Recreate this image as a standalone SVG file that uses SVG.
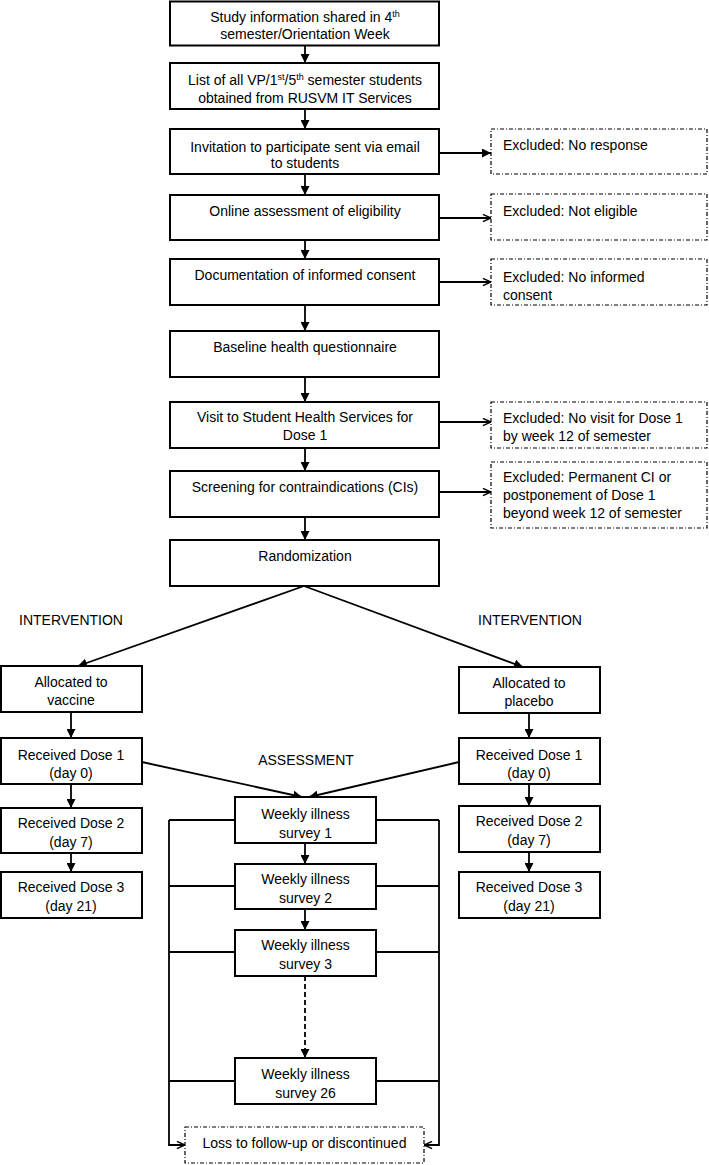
<svg xmlns="http://www.w3.org/2000/svg" width="709" height="1165" viewBox="0 0 709 1165">
<defs>
<style>
text{font-family:"Liberation Sans",Arial,sans-serif;font-size:14px;fill:#000}
.c{text-anchor:middle}
.box{fill:#fff;stroke:#000;stroke-width:2}
.ex{fill:#fff;stroke:#000;stroke-width:1.2;stroke-dasharray:4,2,1,2}
.ln{fill:none;stroke:#000;stroke-width:1.8}
.fa{marker-end:url(#filled)}
.oa{marker-end:url(#open)}
</style>
<marker id="filled" viewBox="0 0 10 10" refX="10" refY="5" markerWidth="9" markerHeight="9" markerUnits="userSpaceOnUse" orient="auto">
<path d="M0,0 L10,5 L0,10 z" fill="#000"/>
</marker>
<marker id="open" viewBox="0 0 10 10" refX="10" refY="5" markerWidth="9" markerHeight="9" markerUnits="userSpaceOnUse" orient="auto">
<path d="M1,1 L10,5 L1,9" fill="none" stroke="#000" stroke-width="1.6"/>
</marker>
</defs>
<rect width="709" height="1165" fill="#fff"/>

<g id="connectors">
<line class="ln fa" x1="305" y1="45" x2="305" y2="63"/>
<line class="ln fa" x1="305" y1="109" x2="305" y2="129"/>
<line class="ln fa" x1="305" y1="174" x2="305" y2="195"/>
<line class="ln fa" x1="305" y1="240" x2="305" y2="259"/>
<line class="ln fa" x1="305" y1="305" x2="305" y2="331"/>
<line class="ln fa" x1="305" y1="377" x2="305" y2="402"/>
<line class="ln fa" x1="305" y1="448" x2="305" y2="471"/>
<line class="ln fa" x1="305" y1="517" x2="305" y2="540"/>
<line class="ln fa" x1="439" y1="153" x2="491" y2="153"/>
<line class="ln oa" x1="439" y1="218" x2="491" y2="218"/>
<line class="ln oa" x1="439" y1="282" x2="491" y2="282"/>
<line class="ln oa" x1="439" y1="422" x2="491" y2="422"/>
<line class="ln oa" x1="439" y1="492" x2="491" y2="492"/>
<line class="ln fa" x1="304" y1="586" x2="78" y2="666"/>
<line class="ln fa" x1="304" y1="586" x2="523" y2="667"/>
<line class="ln fa" x1="71" y1="712" x2="71" y2="738"/>
<line class="ln fa" x1="71" y1="784" x2="71" y2="808"/>
<line class="ln fa" x1="71" y1="853" x2="71" y2="872"/>
<line class="ln fa" x1="529" y1="713" x2="529" y2="738"/>
<line class="ln fa" x1="529" y1="784" x2="529" y2="806"/>
<line class="ln fa" x1="529" y1="852" x2="529" y2="872"/>
<line class="ln fa" x1="142" y1="762" x2="302" y2="797"/>
<line class="ln fa" x1="459" y1="762" x2="309" y2="797"/>
<line class="ln fa" x1="305" y1="843" x2="305" y2="864"/>
<line class="ln fa" x1="305" y1="909" x2="305" y2="930"/>
<line class="ln fa" x1="305" y1="976" x2="305" y2="1058" stroke-dasharray="5,3"/>
<path class="ln" d="M235,820 H169 M235,886 H169 M235,952 H169 M235,1081 H169"/>
<path class="ln" d="M376,820 H439 M376,886 H439 M376,952 H439 M376,1081 H439"/>
<path class="ln oa" d="M169,820 V1145 H185"/>
<path class="ln oa" d="M439,820 V1145 H424"/>
</g>

<g id="n1"><rect class="box" x="170" y="1.5" width="269" height="44"/>
<text class="c" x="305" y="22">Study information shared in 4<tspan font-size="9" dy="-5">th</tspan></text>
<text class="c" x="305" y="39">semester/Orientation Week</text></g>
<g id="n2"><rect class="box" x="170" y="63" width="269" height="46"/>
<text class="c" x="305" y="85">List of all VP/1<tspan font-size="9" dy="-5">st</tspan><tspan dy="5">/5</tspan><tspan font-size="9" dy="-5">th</tspan><tspan dy="5"> semester students</tspan></text>
<text class="c" x="305" y="103">obtained from RUSVM IT Services</text></g>
<g id="n3"><rect class="box" x="170" y="129" width="269" height="45"/>
<text class="c" x="305" y="152">Invitation to participate sent via email</text>
<text class="c" x="305" y="168">to students</text></g>
<g id="n4"><rect class="box" x="170" y="195" width="269" height="45"/>
<text class="c" x="305" y="216">Online assessment of eligibility</text></g>
<g id="n5"><rect class="box" x="170" y="259" width="269" height="46"/>
<text class="c" x="305" y="280">Documentation of informed consent</text></g>
<g id="n6"><rect class="box" x="170" y="331" width="269" height="46"/>
<text class="c" x="305" y="352">Baseline health questionnaire</text></g>
<g id="n7"><rect class="box" x="170" y="402" width="269" height="46"/>
<text class="c" x="305" y="422">Visit to Student Health Services for</text>
<text class="c" x="305" y="440">Dose 1</text></g>
<g id="n8"><rect class="box" x="170" y="471" width="269" height="46"/>
<text class="c" x="305" y="492">Screening for contraindications (CIs)</text></g>
<g id="n9"><rect class="box" x="170" y="540" width="269" height="46"/>
<text class="c" x="305" y="561">Randomization</text></g>

<g id="e1"><rect class="ex" x="491" y="129" width="216" height="45"/>
<text x="503" y="150">Excluded: No response</text></g>
<g id="e2"><rect class="ex" x="491" y="194" width="216" height="46"/>
<text x="503" y="216">Excluded: Not eligible</text></g>
<g id="e3"><rect class="ex" x="491" y="259" width="216" height="46"/>
<text x="503" y="282">Excluded: No informed</text>
<text x="503" y="300">consent</text></g>
<g id="e4"><rect class="ex" x="491" y="402" width="216" height="46"/>
<text x="503" y="423">Excluded: No visit for Dose 1</text>
<text x="503" y="441">by week 12 of semester</text></g>
<g id="e5"><rect class="ex" x="491" y="462" width="216" height="66"/>
<text x="503" y="482">Excluded: Permanent CI or</text>
<text x="503" y="500">postponement of Dose 1</text>
<text x="503" y="518">beyond week 12 of semester</text></g>

<g id="lbl-int-left"><text x="19" y="625">INTERVENTION</text></g>
<g id="lbl-int-right"><text x="478" y="625">INTERVENTION</text></g>
<g id="lbl-assess"><text class="c" x="306" y="765">ASSESSMENT</text></g>

<g id="v1"><rect class="box" x="1" y="666" width="141" height="46"/>
<text class="c" x="71" y="687">Allocated to</text>
<text class="c" x="71" y="705">vaccine</text></g>
<g id="v2"><rect class="box" x="1" y="738" width="141" height="46"/>
<text class="c" x="71" y="760">Received Dose 1</text>
<text class="c" x="71" y="778">(day 0)</text></g>
<g id="v3"><rect class="box" x="1" y="808" width="141" height="45"/>
<text class="c" x="71" y="828">Received Dose 2</text>
<text class="c" x="71" y="847">(day 7)</text></g>
<g id="v4"><rect class="box" x="1" y="872" width="141" height="46"/>
<text class="c" x="71" y="892">Received Dose 3</text>
<text class="c" x="71" y="911">(day 21)</text></g>

<g id="p1"><rect class="box" x="459" y="667" width="141" height="46"/>
<text class="c" x="529" y="688">Allocated to</text>
<text class="c" x="529" y="706">placebo</text></g>
<g id="p2"><rect class="box" x="459" y="738" width="141" height="46"/>
<text class="c" x="529" y="760">Received Dose 1</text>
<text class="c" x="529" y="778">(day 0)</text></g>
<g id="p3"><rect class="box" x="459" y="806" width="141" height="46"/>
<text class="c" x="529" y="826">Received Dose 2</text>
<text class="c" x="529" y="845">(day 7)</text></g>
<g id="p4"><rect class="box" x="459" y="872" width="141" height="46"/>
<text class="c" x="529" y="892">Received Dose 3</text>
<text class="c" x="529" y="911">(day 21)</text></g>

<g id="s1"><rect class="box" x="235" y="797" width="141" height="46"/>
<text class="c" x="305.5" y="819">Weekly illness</text>
<text class="c" x="305.5" y="838">survey 1</text></g>
<g id="s2"><rect class="box" x="235" y="864" width="141" height="45"/>
<text class="c" x="305.5" y="884">Weekly illness</text>
<text class="c" x="305.5" y="903">survey 2</text></g>
<g id="s3"><rect class="box" x="235" y="930" width="141" height="46"/>
<text class="c" x="305.5" y="950">Weekly illness</text>
<text class="c" x="305.5" y="969">survey 3</text></g>
<g id="s26"><rect class="box" x="235" y="1058" width="141" height="46"/>
<text class="c" x="305.5" y="1079">Weekly illness</text>
<text class="c" x="305.5" y="1098">survey 26</text></g>

<g id="loss"><rect class="ex" x="185" y="1127" width="239" height="36"/>
<text class="c" x="304.5" y="1148">Loss to follow-up or discontinued</text></g>
</svg>
